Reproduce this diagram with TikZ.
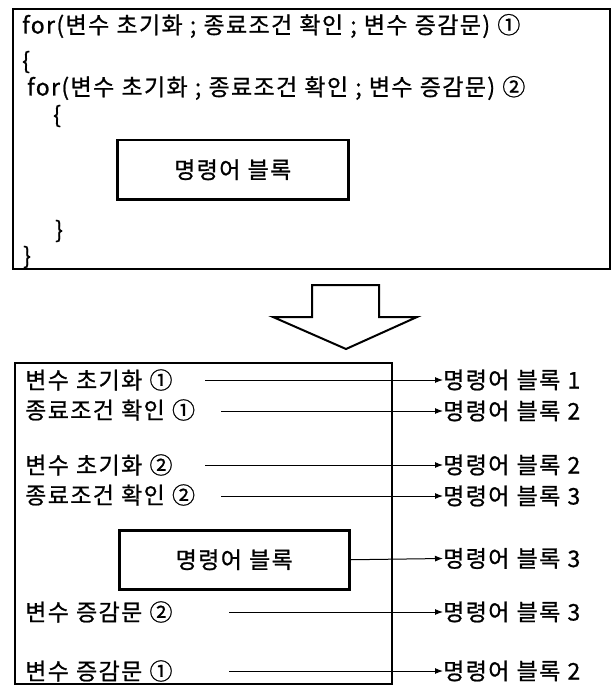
\documentclass[tikz,border=0pt]{standalone}
\usepackage{fontspec}
\setmainfont{Noto Sans CJK KR}[LetterSpace=6,WordSpace=1.1,FakeBold=0.9]
\usetikzlibrary{arrows.meta}
\begin{document}
\begin{tikzpicture}[x=1pt,y=-1pt,
  txt/.style={anchor=west,inner sep=0pt,font=\fontsize{23}{27}\selectfont},
  frame/.style={draw,line width=2pt,anchor=north west,inner sep=0pt},
  blockbox/.style={draw,line width=2.5pt,anchor=north west,inner sep=0pt,font=\fontsize{23}{27}\selectfont},
  arr/.style={-{Latex[length=8pt,width=6pt]},line width=1pt}]
\useasboundingbox (0,0) rectangle (613,687);
% top box
\node[frame,minimum width=597pt,minimum height=260pt] (topbox) at (12,8) {};
\node[txt] (f1) at (22,26) {for(변수 초기화 ; 종료조건 확인 ; 변수 증감문) ①};
\node[txt] (b1) at (22,62) {\{};
\node[txt] (f2) at (27,88) {for(변수 초기화 ; 종료조건 확인 ; 변수 증감문) ②};
\node[txt] (b2) at (53,116) {\{};
\node[blockbox,minimum width=231pt,minimum height=59pt] (blk1) at (116,139) {명령어 블록};
\node[txt] (b3) at (55,231) {\}};
\node[txt] (b4) at (23,257) {\}};
% big arrow
\draw[line width=2pt,fill=white,line join=miter] (312,285) -- (379,285) -- (379,317) -- (417,317) -- (346,349) -- (273,317) -- (312,317) -- cycle;
% bottom box
\node[frame,minimum width=377pt,minimum height=321pt] (botbox) at (14,362) {};
\node[txt] (t1) at (25,380) {변수 초기화 ①};
\node[txt] (t2) at (25,410) {종료조건 확인 ①};
\node[txt] (t3) at (25,465) {변수 초기화 ②};
\node[txt] (t4) at (25,495) {종료조건 확인 ②};
\node[blockbox,minimum width=230pt,minimum height=59pt] (blk2) at (118,529) {명령어 블록};
\node[txt] (t6) at (25,612) {변수 증감문 ②};
\node[txt] (t7) at (25,671) {변수 증감문 ①};
% labels
\node[txt] (l1) at (443,380) {명령어 블록 1};
\node[txt] (l2) at (443,411) {명령어 블록 2};
\node[txt] (l3) at (443,465) {명령어 블록 2};
\node[txt] (l4) at (443,496) {명령어 블록 3};
\node[txt] (l5) at (443,558.5) {명령어 블록 3};
\node[txt] (l6) at (443,612) {명령어 블록 3};
\node[txt] (l7) at (443,671) {명령어 블록 2};
% arrow starts
\coordinate (s1) at (205,380);
\coordinate (s2) at (221,411);
\coordinate (s3) at (205,465);
\coordinate (s4) at (221,496);
\coordinate (s6) at (229,612);
\coordinate (s7) at (229,671);
\draw[arr] (s1) -- (l1.west);
\draw[arr] (s2) -- (l2.west);
\draw[arr] (s3) -- (l3.west);
\draw[arr] (s4) -- (l4.west);
\draw[arr] (blk2.east) -- (l5.west);
\draw[arr] (s6) -- (l6.west);
\draw[arr] (s7) -- (l7.west);
\end{tikzpicture}
\end{document}
